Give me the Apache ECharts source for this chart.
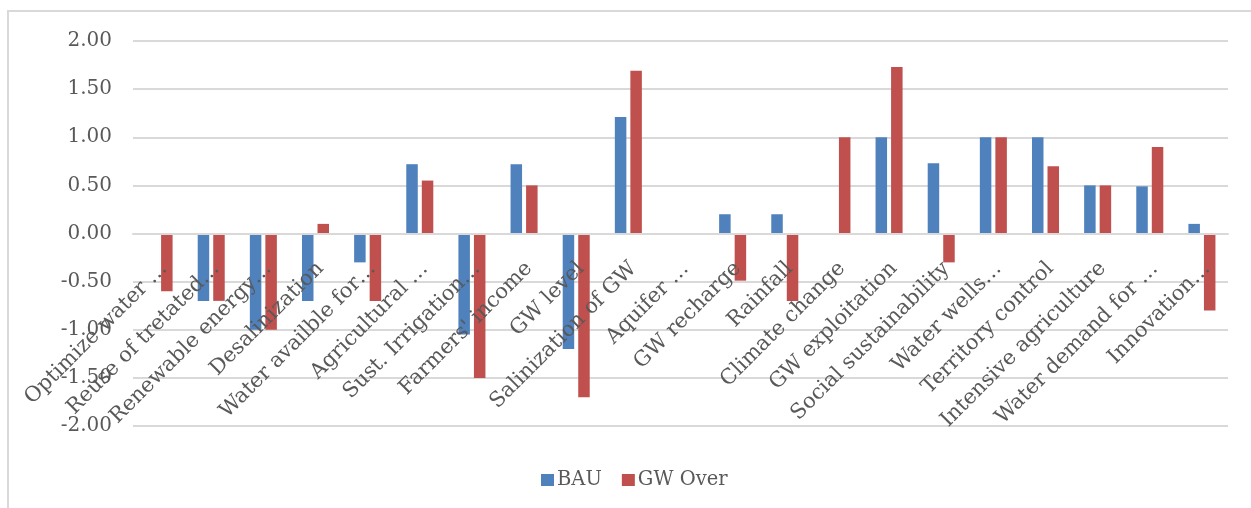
<!DOCTYPE html>
<html lang="en">
<head>
  <meta charset="UTF-8">
  <title>BAU vs GW Over</title>
  <script src="https://cdn.jsdelivr.net/npm/echarts@6/dist/echarts.min.js"></script>
  <style>
    html, body { margin: 0; padding: 0; background: #fff; }
    #main { width: 1251px; height: 508px; }
  </style>
</head>
<body>
<div id="main"></div>
<script>
  const categories = [
    'Optimize water …', 'Reuse of tretated…', 'Renewable energy…', 'Desalinization',
    'Water availble for…', 'Agricultural …', 'Sust. Irrigation…', "Farmers' income",
    'GW level', 'Salinization of GW', 'Aquifer …', 'GW recharge', 'Rainfall',
    'Climate change', 'GW exploitation', 'Social sustainability', 'Water wells…',
    'Territory control', 'Intensive agriculture', 'Water demand for …', 'Innovation…'
  ];
  const bau = [0, -0.7, -1.0, -0.7, -0.3, 0.72, -1.05, 0.72, -1.2, 1.21, 0,
    0.2, 0.2, 0, 1.0, 0.73, 1.0, 1.0, 0.5, 0.49, 0.1];
  const gwOver = [-0.6, -0.7, -1.0, 0.1, -0.7, 0.55, -1.5, 0.5, -1.7, 1.69, 0,
    -0.49, -0.7, 1.0, 1.73, -0.3, 1.0, 0.7, 0.5, 0.9, -0.8];

  const font = 'DejaVu Serif';
  const chart = echarts.init(document.getElementById('main'));

  chart.setOption({
    animation: false,
    graphic: [{
      type: 'rect',
      shape: { x: 8, y: 11, width: 1300, height: 600 },
      style: { fill: 'none', stroke: '#d9d9d9', lineWidth: 2 },
      silent: true
    }],
    legend: {
      data: ['BAU', 'GW Over'],
      left: 536,
      top: 465,
      itemWidth: 13,
      itemHeight: 12,
      itemGap: 20,
      icon: 'rect',
      textStyle: { fontFamily: font, fontSize: 19.5, color: '#595959', padding: [0, 0, 0, -2] }
    },
    grid: { left: 133, right: 23, top: 41, bottom: 82, containLabel: false, outerBoundsMode: 'none' },
    xAxis: {
      type: 'category',
      data: categories,
      position: 'bottom',
      offset: -192.5,
      z: 10,
      axisLine: { show: true, onZero: false, lineStyle: { color: '#d9d9d9', width: 2 } },
      axisTick: { show: false },
      axisLabel: {
        interval: 0,
        rotate: 45,
        margin: 27,
        verticalAlign: 'top',
        lineHeight: 14,
        fontFamily: font,
        fontSize: 21,
        color: '#595959'
      }
    },
    yAxis: {
      type: 'value',
      min: -2,
      max: 2,
      interval: 0.5,
      axisLine: { show: false },
      axisTick: { show: false },
      splitLine: { lineStyle: { color: '#d9d9d9', width: 2 } },
      axisLabel: {
        margin: 21,
        fontFamily: font,
        fontSize: 20,
        color: '#595959',
        formatter: v => v.toFixed(2)
      }
    },
    series: [
      {
        name: 'BAU',
        type: 'bar',
        data: bau,
        barWidth: 11.5,
        barGap: '35%',
        itemStyle: { color: '#4F81BD' }
      },
      {
        name: 'GW Over',
        type: 'bar',
        data: gwOver,
        barWidth: 11.5,
        itemStyle: { color: '#C0504D' }
      }
    ]
  });
</script>
</body>
</html>
